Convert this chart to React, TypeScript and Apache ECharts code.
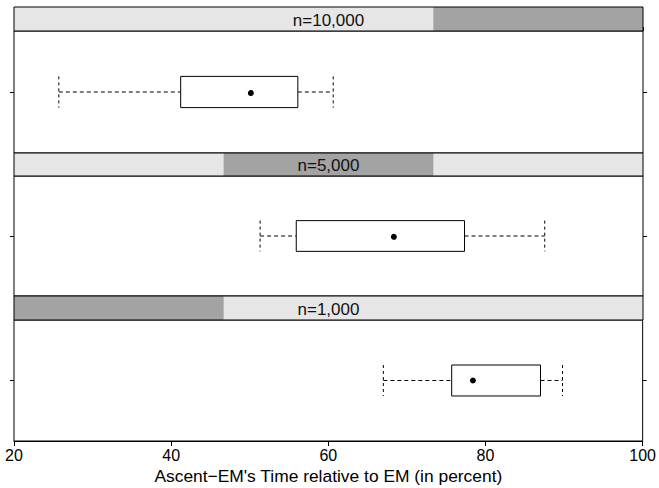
import React, { useEffect, useRef } from "react";
import * as echarts from "echarts";

// Panels, top to bottom
const panelLabels = ["n=10,000", "n=5,000", "n=1,000"];
// Which of the three sample-size levels each panel belongs to (1 = smallest)
const panelLevels = [3, 2, 1];
const levelCount = 3;

// Box-and-whisker statistics per panel (percent)
const whiskerLow = [25.7, 51.3, 67.0];
const lowerQuartile = [41.2, 55.9, 75.7];
const medians = [50.1, 68.3, 78.4];
const upperQuartile = [56.1, 77.3, 87.0];
const whiskerHigh = [60.6, 87.5, 89.8];

const xTicks = [20, 40, 60, 80, 100];
const axisTitle = "Ascent\u2212EM's Time relative to EM (in percent)";

const X_MIN = xTicks[0];
const X_MAX = xTicks[xTicks.length - 1];
const X_STEP = xTicks[1] - xTicks[0];

const FONT = "'Liberation Sans', Arial, Helvetica, sans-serif";
const LIGHT = "#e6e6e6";
const DARK = "#a3a3a3";

// Layout of strips and panels (px)
const LEFT = 14;
const RIGHT = 16;
const stripTops = [7, 153, 296];
const stripHeights = [24, 23, 24];
const panelTops = [31, 176, 320];
const panelHeights = [122, 120, 121];

export default function App() {
  const ref = useRef<HTMLDivElement>(null);

  useEffect(() => {
    if (!ref.current) return;
    const chart = echarts.init(ref.current, undefined, { renderer: "svg" });

    const grids: any[] = [];
    const xAxes: any[] = [];
    const yAxes: any[] = [];
    const series: any[] = [];

    panelLabels.forEach((label, i) => {
      const stripGrid = grids.length;
      grids.push({
        left: LEFT,
        right: RIGHT,
        top: stripTops[i],
        height: stripHeights[i],
        show: false,
      });
      xAxes.push({
        type: "value",
        gridIndex: stripGrid,
        min: X_MIN,
        max: X_MAX,
        interval: X_STEP,
        position: "top",
        show: i === 0,
        axisLine: { show: false },
        axisTick: {
          show: i === 0,
          inside: false,
          length: 4,
          lineStyle: { color: "#000", width: 1 },
        },
        axisLabel: { show: false },
        splitLine: { show: false },
      });
      const stripY = yAxes.length;
      yAxes.push({
        type: "value",
        gridIndex: stripGrid,
        min: 0,
        max: 1,
        show: false,
      });

      const level = panelLevels[i];
      const span = (X_MAX - X_MIN) / levelCount;
      series.push({
        type: "custom",
        xAxisIndex: stripGrid,
        yAxisIndex: stripY,
        silent: true,
        clip: false,
        data: [[X_MIN + (level - 1) * span, X_MIN + level * span]],
        renderItem: (params: any, api: any) => {
          const tl = api.coord([X_MIN, 1]);
          const br = api.coord([X_MAX, 0]);
          const d0 = api.coord([api.value(0), 1]);
          const d1 = api.coord([api.value(1), 0]);
          const mid = api.coord([(X_MIN + X_MAX) / 2, 0.5]);
          return {
            type: "group",
            children: [
              {
                type: "rect",
                shape: { x: tl[0], y: tl[1], width: br[0] - tl[0], height: br[1] - tl[1] },
                style: { fill: LIGHT, stroke: null },
              },
              {
                type: "rect",
                shape: { x: d0[0], y: d0[1], width: d1[0] - d0[0], height: d1[1] - d0[1] },
                style: { fill: DARK, stroke: null },
              },
              {
                type: "rect",
                shape: { x: tl[0], y: tl[1], width: br[0] - tl[0], height: br[1] - tl[1] },
                style: { fill: "none", stroke: "#000", lineWidth: 1 },
              },
              {
                type: "text",
                x: mid[0],
                y: mid[1] + 1,
                style: {
                  text: label,
                  fill: "#111",
                  fontSize: 17,
                  fontFamily: FONT,
                  align: "center",
                  verticalAlign: "middle",
                },
              },
            ],
          };
        },
      });

      const panelGrid = grids.length;
      const isBottom = i === panelLabels.length - 1;
      grids.push({
        left: LEFT,
        right: RIGHT,
        top: panelTops[i],
        height: panelHeights[i],
        show: true,
        borderColor: "#000",
        borderWidth: 1,
        backgroundColor: "#fff",
      });
      xAxes.push({
        type: "value",
        gridIndex: panelGrid,
        min: X_MIN,
        max: X_MAX,
        interval: X_STEP,
        position: "bottom",
        show: isBottom,
        axisLine: { show: isBottom, lineStyle: { color: "#000", width: 1 } },
        axisTick: {
          show: isBottom,
          inside: false,
          length: 5,
          lineStyle: { color: "#000", width: 1 },
        },
        axisLabel: {
          show: isBottom,
          color: "#000",
          fontSize: 16,
          fontFamily: FONT,
          margin: 6,
        },
        splitLine: { show: false },
        name: isBottom ? axisTitle : "",
        nameLocation: "middle",
        nameGap: 26,
        nameTextStyle: { color: "#000", fontSize: 17.4, fontFamily: FONT },
      });
      const panelY = yAxes.length;
      ["left", "right"].forEach((pos) => {
        yAxes.push({
          type: "category",
          gridIndex: panelGrid,
          position: pos,
          data: [""],
          axisLine: { show: false },
          axisTick: {
            show: true,
            alignWithLabel: true,
            inside: false,
            length: 4,
            lineStyle: { color: "#000", width: 1 },
          },
          axisLabel: { show: false },
          splitLine: { show: false },
        });
      });

      series.push({
        type: "custom",
        xAxisIndex: panelGrid,
        yAxisIndex: panelY,
        silent: true,
        encode: { y: 0, x: [1, 2, 3, 4, 5] },
        data: [[0, whiskerLow[i], lowerQuartile[i], medians[i], upperQuartile[i], whiskerHigh[i]]],
        renderItem: (params: any, api: any) => {
          const cat = api.value(0);
          const lo = api.coord([api.value(1), cat]);
          const q1 = api.coord([api.value(2), cat]);
          const md = api.coord([api.value(3), cat]);
          const q3 = api.coord([api.value(4), cat]);
          const hi = api.coord([api.value(5), cat]);
          const band = api.size([0, 1])[1];
          const h = band * 0.256;
          const cy = md[1];
          const dash = { stroke: "#000", lineWidth: 1, lineDash: [4, 3] };
          return {
            type: "group",
            children: [
              { type: "line", shape: { x1: lo[0], y1: cy, x2: q1[0], y2: cy }, style: dash },
              { type: "line", shape: { x1: q3[0], y1: cy, x2: hi[0], y2: cy }, style: dash },
              { type: "line", shape: { x1: lo[0], y1: cy - h / 2, x2: lo[0], y2: cy + h / 2 }, style: { ...dash, lineDash: [3, 3] } },
              { type: "line", shape: { x1: hi[0], y1: cy - h / 2, x2: hi[0], y2: cy + h / 2 }, style: { ...dash, lineDash: [3, 3] } },
              {
                type: "rect",
                shape: { x: q1[0], y: cy - h / 2, width: q3[0] - q1[0], height: h },
                style: { fill: "#fff", stroke: "#000", lineWidth: 1 },
              },
              { type: "circle", shape: { cx: md[0], cy, r: 3 }, style: { fill: "#000", stroke: null } },
            ],
          };
        },
      });
    });

    chart.setOption({
      animation: false,
      backgroundColor: "#fff",
      grid: grids,
      xAxis: xAxes,
      yAxis: yAxes,
      series,
    });

    return () => chart.dispose();
  }, []);

  return (
    <div
      ref={ref}
      style={{ position: "absolute", left: 0, top: 0, width: 659, height: 488 }}
    />
  );
}
